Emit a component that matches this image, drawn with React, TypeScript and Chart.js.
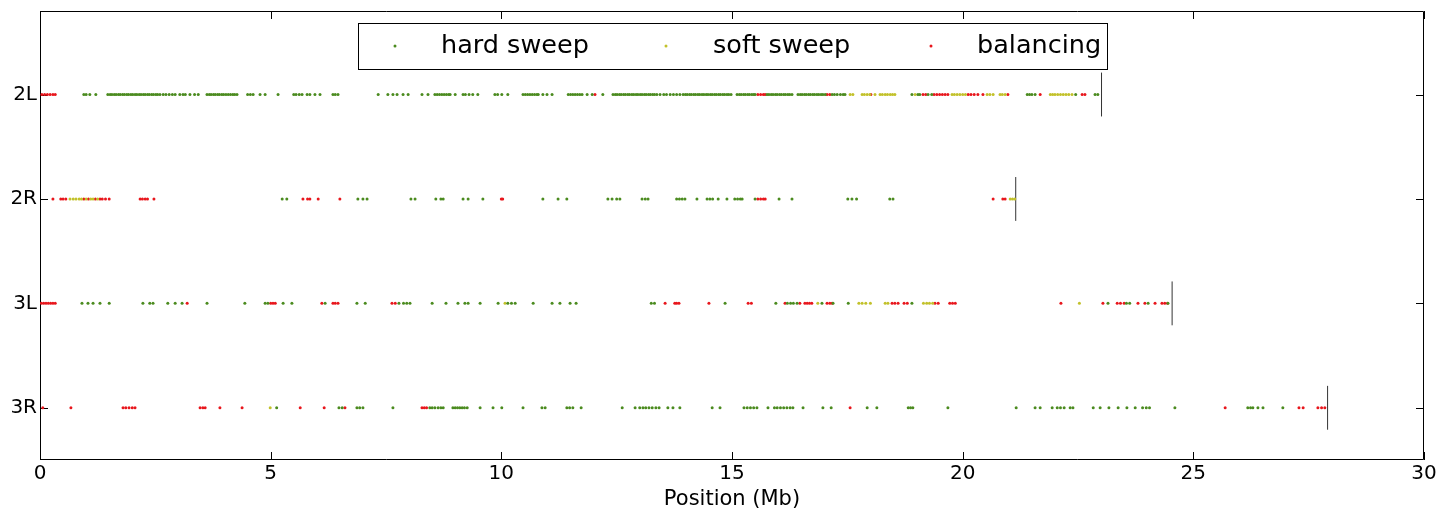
import React, { useEffect, useRef } from "react";
import { Chart, registerables } from "chart.js";

Chart.register(...registerables);

// Row labels (bottom to top index: 3R=0, 3L=1, 2R=2, 2L=3)
const chromosomes = ["3R", "3L", "2R", "2L"];
const chromLengths = [27.91, 24.54, 21.15, 23.01];
const xTicks = [0, 5, 10, 15, 20, 25, 30];
const seriesNames = ["hard sweep", "soft sweep", "balancing"];

// ---- 2L ----
const hard2L = [
  0.95, 1.0, 1.08, 1.21,
  1.47, 1.52, 1.56, 1.61, 1.65, 1.7, 1.74, 1.79, 1.83, 1.88, 1.92, 1.97, 2.01, 2.06, 2.1, 2.15, 2.19, 2.24, 2.28, 2.33, 2.37, 2.42, 2.46, 2.51, 2.55, 2.6,
  2.67, 2.73, 2.8, 2.87, 2.93, 3.03, 3.1, 3.15, 3.25, 3.35, 3.43,
  3.62, 3.67, 3.71, 3.76, 3.8, 3.85, 3.89, 3.94, 3.98, 4.03, 4.08, 4.13, 4.18, 4.22, 4.27,
  4.5, 4.56, 4.62, 4.77, 4.88, 5.16, 5.5, 5.55, 5.62, 5.68, 5.79, 5.85, 5.96, 6.07, 6.35, 6.4, 6.46,
  7.33, 7.54, 7.65, 7.74, 7.87, 7.98, 8.28, 8.41,
  8.56, 8.61, 8.66, 8.71, 8.76, 8.81, 8.86, 8.89, 9.0, 9.17, 9.22, 9.3, 9.38, 9.49,
  9.86, 9.92, 10.01, 10.14,
  10.47, 10.52, 10.57, 10.62, 10.67, 10.72, 10.77, 10.8, 10.9, 10.99, 11.1,
  11.45, 11.5, 11.55, 11.6, 11.65, 11.7, 11.75, 11.86, 11.97, 12.2,
  12.42, 12.47, 12.51, 12.56, 12.6, 12.65, 12.69, 12.74, 12.78, 12.83, 12.87, 12.92, 12.96, 13.01, 13.05, 13.1, 13.14, 13.19, 13.23, 13.28, 13.32, 13.37,
  13.44, 13.52, 13.58, 13.66, 13.73, 13.8, 13.87,
  13.94, 13.99, 14.03, 14.08, 14.12, 14.17, 14.21, 14.26, 14.3, 14.35, 14.39, 14.44, 14.48, 14.53, 14.57, 14.62, 14.66, 14.71, 14.75, 14.8, 14.84, 14.89, 14.93, 14.98,
  15.11, 15.16, 15.2, 15.25, 15.29, 15.34, 15.38, 15.43, 15.47, 15.5,
  15.76, 15.8, 15.85, 15.89, 15.94, 15.98, 16.03, 16.07, 16.12, 16.16, 16.21, 16.25, 16.3,
  16.43, 16.48, 16.52, 16.57, 16.61, 16.66, 16.7, 16.75, 16.79, 16.84, 16.88, 16.93, 16.97, 17.02,
  17.17, 17.22, 17.28, 17.35, 17.41, 17.45,
  18.9, 19.03, 19.07, 19.25, 19.33,
  21.4, 21.45, 21.5, 21.57, 22.45, 22.87, 22.93,
];
const soft2L = [
  17.56, 17.62, 17.82, 17.87, 17.93, 17.99, 18.1, 18.21, 18.26, 18.32, 18.37, 18.43, 18.48, 18.53,
  18.97, 19.77, 19.82, 19.88, 19.94, 20.0, 20.06, 20.53, 20.59, 20.66, 20.81, 20.86, 20.92,
  21.9, 21.95, 22.0, 22.06, 22.12, 22.18, 22.24, 22.3, 22.37,
];
const bal2L = [
  0.04, 0.1, 0.16, 0.22, 0.28, 0.33, 12.03, 15.56, 15.62, 15.68, 15.72, 17.06, 17.12, 18.01,
  19.14, 19.2, 19.38, 19.44, 19.5, 19.56, 19.62, 19.68, 20.12, 20.18, 20.25, 20.33, 20.44, 20.98,
  21.68, 22.59, 22.65,
];

// ---- 2R ----
const hard2R = [
  5.25, 5.35, 6.89, 7.0, 7.09, 8.04, 8.13, 8.58, 8.69, 8.74, 9.17, 9.28, 9.6,
  10.9, 11.23, 11.42, 12.31, 12.4, 12.5, 12.57, 13.05, 13.12, 13.18, 13.8, 13.86, 13.92, 13.98,
  14.24, 14.46, 14.52, 14.58, 14.7, 14.89, 15.06, 15.12, 15.18, 15.22, 15.5, 16.02, 16.3,
  17.51, 17.6, 17.7, 18.42, 18.49,
];
const soft2R = [0.65, 0.72, 0.78, 0.85, 0.9, 1.0, 1.1, 1.15, 1.25, 21.03, 21.08, 21.13];
const bal2R = [
  0.28, 0.45, 0.5, 0.56, 0.95, 1.05, 1.2, 1.3, 1.35, 1.42, 1.5,
  2.17, 2.22, 2.28, 2.33, 2.47, 5.7, 5.8, 5.85, 6.03, 6.5, 10.0, 10.03,
  15.56, 15.62, 15.68, 15.72, 20.66, 20.87, 20.92,
];

// ---- 3L ----
const hard3L = [
  0.91, 1.04, 1.15, 1.3, 1.5, 2.23, 2.38, 2.45, 2.77, 2.93, 3.08, 3.62, 4.44, 4.88, 4.94,
  5.27, 5.46, 6.18, 6.87, 7.05, 7.78, 7.88, 7.95, 8.02, 8.5, 8.8, 9.06, 9.21, 9.28, 9.54,
  9.93, 10.14, 10.22, 10.3, 10.69, 11.1, 11.27, 11.49, 11.62, 13.25, 13.32, 14.85,
  15.95, 16.2, 16.27, 16.33, 16.41, 16.95, 17.19, 17.52, 18.9, 23.15, 23.55, 23.62, 24.02, 24.45,
];
const soft3L = [10.08, 16.86, 17.75, 17.82, 17.9, 18.0, 18.32, 18.38, 19.15, 19.22, 19.28, 19.35, 22.53];
const bal3L = [
  0.03, 0.08, 0.13, 0.18, 0.23, 0.28, 0.33, 3.19, 5.0, 5.05, 5.1, 6.11, 6.35, 6.4, 6.46,
  7.63, 7.7, 13.55, 13.76, 13.8, 13.85, 14.5, 15.35, 15.42, 16.15, 16.47, 16.58, 16.63, 16.68, 16.73,
  17.06, 17.12, 17.17, 18.47, 18.53, 18.6, 18.73, 18.8, 19.4, 19.47, 19.72, 19.78, 19.84,
  22.13, 23.04, 23.35, 23.42, 23.5, 23.8, 23.95, 24.17, 24.32, 24.38, 24.44,
];

// ---- 3R ----
const hard3R = [
  5.13, 6.48, 6.55, 6.87, 6.93, 7.0, 7.65, 8.45, 8.5, 8.56, 8.63, 8.69, 8.74,
  8.95, 9.0, 9.05, 9.1, 9.15, 9.2, 9.26, 9.54, 9.82, 10.01, 10.47, 10.88, 10.95,
  11.42, 11.48, 11.55, 11.73, 12.62, 12.9, 13.0, 13.07, 13.13, 13.2, 13.27, 13.35, 13.42,
  13.61, 13.72, 13.87, 14.57, 14.74, 15.26, 15.33, 15.4, 15.47, 15.54, 15.78,
  15.92, 15.98, 16.05, 16.12, 16.19, 16.26, 16.32, 16.54, 16.97, 17.15, 17.93, 18.14,
  18.82, 18.87, 18.92, 19.68, 21.16, 21.57, 21.68, 21.94, 22.05, 22.12, 22.2, 22.33, 22.39,
  22.83, 22.98, 23.17, 23.37, 23.56, 23.74, 23.9, 23.98, 24.05, 24.6,
  26.18, 26.24, 26.29, 26.4, 26.51, 26.94,
];
const soft3R = [4.99];
const bal3R = [
  0.06, 0.67, 1.8, 1.86, 1.93, 2.0, 2.06, 3.47, 3.53, 3.58, 3.9, 4.38, 5.64, 6.16, 6.61,
  8.28, 8.33, 8.38, 17.56, 25.69, 27.29, 27.38, 27.7, 27.78, 27.85,
];

const hardRows = [hard3R, hard3L, hard2R, hard2L];
const softRows = [soft3R, soft3L, soft2R, soft2L];
const balRows = [bal3R, bal3L, bal2R, bal2L];

const seriesColors = ["#4b8b1f", "#c2c12a", "#e8161c"];
const FONT = "'DejaVu Sans', sans-serif";

function toPoints(rows: number[][]) {
  const pts: { x: number; y: number }[] = [];
  rows.forEach((row, i) => row.forEach((x) => pts.push({ x, y: i })));
  return pts;
}

const framePlugin = {
  id: "frameTicksLegend",
  beforeDatasetsDraw(chart: any) {
    const { ctx, chartArea, scales } = chart;
    const { left, right, top, bottom } = chartArea;
    ctx.save();
    ctx.strokeStyle = "#000";
    ctx.lineWidth = 1;
    ctx.beginPath();
    ctx.rect(left + 0.5, top + 0.5, right - left - 1, bottom - top - 1);
    ctx.stroke();
    const tl = 8;
    ctx.beginPath();
    xTicks.forEach((v) => {
      const px = Math.round(scales.x.getPixelForValue(v)) + 0.5;
      ctx.moveTo(px, bottom);
      ctx.lineTo(px, bottom - tl);
      ctx.moveTo(px, top);
      ctx.lineTo(px, top + tl);
    });
    chromosomes.forEach((_, i) => {
      const py = Math.round(scales.y.getPixelForValue(i)) + 0.5;
      ctx.moveTo(left, py);
      ctx.lineTo(left + tl, py);
      ctx.moveTo(right, py);
      ctx.lineTo(right - tl, py);
    });
    ctx.stroke();
    ctx.restore();
  },
  afterDatasetsDraw(chart: any) {
    const { ctx } = chart;
    ctx.save();
    const bx = 358.5, by = 23.5, bw = 749, bh = 46;
    ctx.fillStyle = "#fff";
    ctx.fillRect(bx, by, bw, bh);
    ctx.strokeStyle = "#000";
    ctx.lineWidth = 1;
    ctx.strokeRect(bx, by, bw, bh);
    const markerX = [395, 666, 931];
    const textX = [441, 713, 977];
    ctx.font = `25.5px ${FONT}`;
    ctx.textBaseline = "middle";
    ctx.textAlign = "left";
    seriesNames.forEach((name, i) => {
      ctx.fillStyle = seriesColors[i];
      ctx.beginPath();
      ctx.arc(markerX[i], 46, 1.5, 0, Math.PI * 2);
      ctx.fill();
      ctx.fillStyle = "#000";
      ctx.fillText(name, textX[i], 46);
    });
    ctx.restore();
  },
};

export default function App() {
  const ref = useRef<HTMLCanvasElement>(null);
  useEffect(() => {
    document.body.style.margin = "0";
    const canvas = ref.current!;
    const datasets: any[] = [];
    [hardRows, softRows, balRows].forEach((rows, i) => {
      datasets.push({
        label: seriesNames[i],
        data: toPoints(rows),
        backgroundColor: seriesColors[i],
        borderColor: seriesColors[i],
        pointRadius: 1.5,
        pointBorderWidth: 0,
        showLine: false,
      });
    });
    chromLengths.forEach((len, i) => {
      datasets.push({
        label: "end-" + chromosomes[i],
        data: [
          { x: len, y: i - 0.21 },
          { x: len, y: i + 0.21 },
        ],
        borderColor: "#333",
        borderWidth: 1,
        pointRadius: 0,
        showLine: true,
      });
    });
    const chart = new Chart(canvas, {
      type: "scatter",
      data: { datasets },
      plugins: [framePlugin],
      options: {
        animation: false,
        responsive: false,
        devicePixelRatio: 1,
        layout: { padding: { top: 11, right: 32, left: 0, bottom: 0 } },
        plugins: { legend: { display: false }, tooltip: { enabled: false } },
        scales: {
          x: {
            type: "linear",
            min: 0,
            max: 30,
            afterFit: (s: any) => {
              s.height = 50;
              s.paddingLeft = 0;
              s.paddingRight = 0;
            },
            afterBuildTicks: (s: any) => {
              s.ticks = xTicks.map((v) => ({ value: v }));
            },
            grid: { display: false, drawTicks: false },
            border: { display: false },
            ticks: {
              padding: 2,
              color: "#000",
              font: { family: FONT, size: 20 },
              maxRotation: 0,
              callback: (v: any) => String(v),
            },
            title: {
              display: true,
              text: "Position (Mb)",
              color: "#000",
              font: { family: FONT, size: 21, lineHeight: 1.0 },
              padding: { top: 0, bottom: 0 },
            },
          },
          y: {
            type: "linear",
            min: -0.5,
            max: 3.8,
            afterFit: (s: any) => {
              s.width = 40;
              s.paddingTop = 0;
              s.paddingBottom = 0;
            },
            afterBuildTicks: (s: any) => {
              s.ticks = chromosomes.map((_, i) => ({ value: i }));
            },
            grid: { display: false, drawTicks: false },
            border: { display: false },
            ticks: {
              padding: 3,
              color: "#000",
              font: { family: FONT, size: 20 },
              callback: (v: any) => chromosomes[Math.round(Number(v))] ?? "",
            },
          },
        },
      },
    });
    return () => chart.destroy();
  }, []);
  return <canvas ref={ref} width={1456} height={510} style={{ display: "block", width: 1456, height: 510 }} />;
}
